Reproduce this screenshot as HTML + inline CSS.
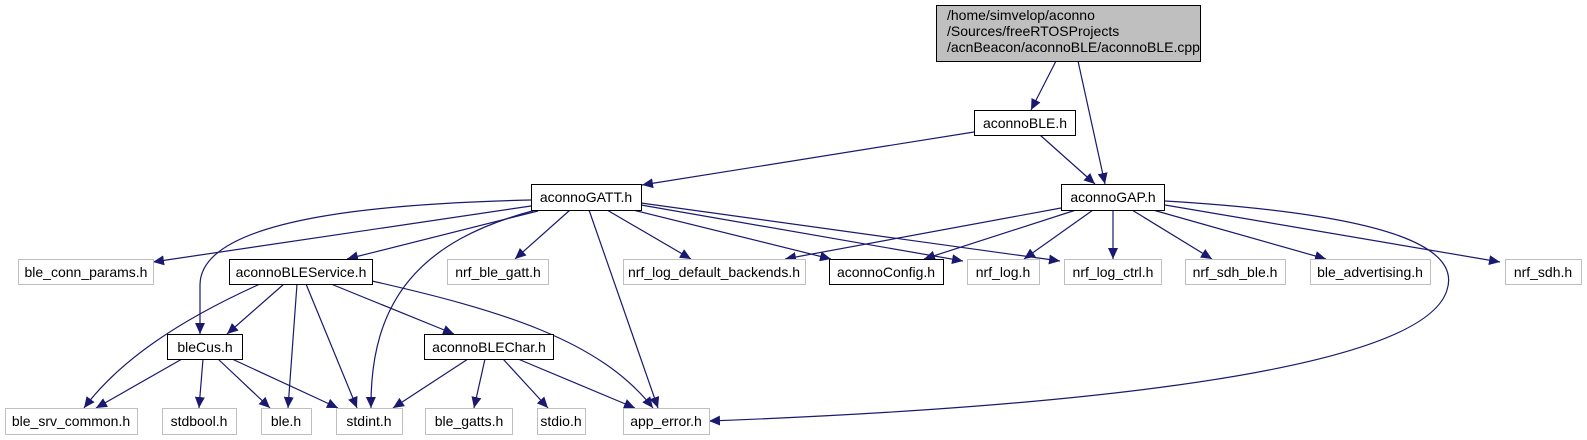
<!DOCTYPE html>
<html><head><meta charset="utf-8"><style>
html,body{margin:0;padding:0;background:#fff;}
svg{display:block;}
text{font-family:"Liberation Sans",sans-serif;font-size:14px;fill:#000;}
</style></head><body>
<svg width="1587" height="440" viewBox="0 0 1587 440" xmlns="http://www.w3.org/2000/svg">
<defs>
<marker id="a" markerUnits="userSpaceOnUse" markerWidth="12" markerHeight="10" refX="11" refY="5" orient="auto">
<path d="M0,0 L11,5 L0,10 Z" fill="#191970"/>
</marker>
</defs>
<g fill="none" stroke="#191970" stroke-width="1.2" marker-end="url(#a)">
<path d="M1056,61 L1031,110"/>
<path d="M1078,61 L1105,184"/>
<path d="M974,132 L642,185"/>
<path d="M1040,135 L1095,184"/>
<path d="M531,206 L153,262"/>
<path d="M531,200 C400,203 200,215 200,285 L200,334"/>
<path d="M538,211 L347,259"/>
<path d="M536,210 C420,240 370,300 371,408"/>
<path d="M570,210 L515,259"/>
<path d="M589,210 L658,408"/>
<path d="M607,210 L691,259"/>
<path d="M633,210 L831,259"/>
<path d="M641,205 L963,261"/>
<path d="M641,203 L1060,261"/>
<path d="M1061,208 L785,259"/>
<path d="M1076,210 L924,259"/>
<path d="M1093,210 L1024,259"/>
<path d="M1113,210 L1113,259"/>
<path d="M1132,210 L1212,259"/>
<path d="M1153,210 L1326,259"/>
<path d="M1165,205 L1500,262"/>
<path d="M1165,201 C1400,215 1460,250 1447,290 C1420,380 1000,410 709,421"/>
<path d="M260,284 C180,320 120,360 84,408"/>
<path d="M284,284 L227,334"/>
<path d="M297,284 L288,408"/>
<path d="M306,284 L357,408"/>
<path d="M331,284 L454,334"/>
<path d="M372,281 C500,310 600,340 653,408"/>
<path d="M182,359 L96,408"/>
<path d="M203,359 L199,408"/>
<path d="M218,359 L270,408"/>
<path d="M232,359 L338,408"/>
<path d="M468,359 L393,408"/>
<path d="M485,359 L474,408"/>
<path d="M503,359 L548,408"/>
<path d="M518,359 L635,408"/>
</g>
<g stroke-width="1">
<rect x="936.5" y="5.5" width="264" height="56" fill="#bfbfbf" stroke="#000"/>
<rect x="974.5" y="110.5" width="101" height="25" fill="#fff" stroke="#000"/>
<rect x="531.5" y="184.5" width="110" height="26" fill="#fff" stroke="#000"/>
<rect x="1061.5" y="184.5" width="103" height="26" fill="#fff" stroke="#000"/>
<g fill="#fff" stroke="#bfbfbf">
<rect x="18.5" y="259.5" width="135" height="25"/>
<rect x="447.5" y="259.5" width="101" height="25"/>
<rect x="623.5" y="259.5" width="182" height="25"/>
<rect x="967.5" y="259.5" width="72" height="25"/>
<rect x="1064.5" y="259.5" width="97" height="25"/>
<rect x="1185.5" y="259.5" width="100" height="25"/>
<rect x="1310.5" y="259.5" width="120" height="25"/>
<rect x="1505.5" y="259.5" width="76" height="25"/>
<rect x="5.5" y="408.5" width="132" height="26"/>
<rect x="162.5" y="408.5" width="74" height="26"/>
<rect x="261.5" y="408.5" width="50" height="26"/>
<rect x="336.5" y="408.5" width="66" height="26"/>
<rect x="425.5" y="408.5" width="87" height="26"/>
<rect x="537.5" y="408.5" width="48" height="26"/>
<rect x="623.5" y="408.5" width="86" height="26"/>
</g>
<g fill="#fff" stroke="#000">
<rect x="229.5" y="259.5" width="143" height="25"/>
<rect x="829.5" y="259.5" width="114" height="25"/>
<rect x="167.5" y="334.5" width="75" height="25"/>
<rect x="424.5" y="334.5" width="129" height="25"/>
</g>
</g>
<text x="947" y="20">/home/simvelop/aconno</text>
<text x="947" y="36">/Sources/freeRTOSProjects</text>
<text x="947" y="52">/acnBeacon/aconnoBLE/aconnoBLE.cpp</text>
<g text-anchor="middle">
<text x="1025" y="128">aconnoBLE.h</text>
<text x="586" y="202">aconnoGATT.h</text>
<text x="1113" y="202">aconnoGAP.h</text>
<text x="86" y="277">ble_conn_params.h</text>
<text x="301" y="277">aconnoBLEService.h</text>
<text x="498" y="277">nrf_ble_gatt.h</text>
<text x="714" y="277">nrf_log_default_backends.h</text>
<text x="886" y="277">aconnoConfig.h</text>
<text x="1003" y="277">nrf_log.h</text>
<text x="1113" y="277">nrf_log_ctrl.h</text>
<text x="1235" y="277">nrf_sdh_ble.h</text>
<text x="1370" y="277">ble_advertising.h</text>
<text x="1543" y="277">nrf_sdh.h</text>
<text x="205" y="352">bleCus.h</text>
<text x="489" y="352">aconnoBLEChar.h</text>
<text x="71" y="426">ble_srv_common.h</text>
<text x="199" y="426">stdbool.h</text>
<text x="286" y="426">ble.h</text>
<text x="369" y="426">stdint.h</text>
<text x="469" y="426">ble_gatts.h</text>
<text x="561" y="426">stdio.h</text>
<text x="666" y="426">app_error.h</text>
</g>
</svg>
</body></html>
